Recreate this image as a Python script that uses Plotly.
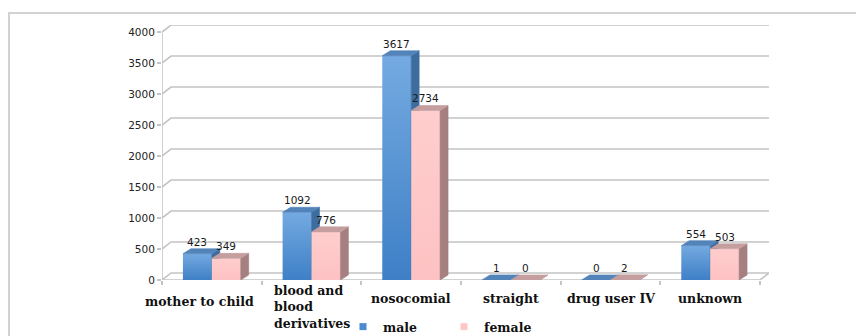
import plotly.graph_objects as go

# ---- data -------------------------------------------------------------
categories = ["mother to child", "blood and blood derivatives", "nosocomial",
              "straight", "drug user IV", "unknown"]
category_text = ["mother to child", "blood and<br>blood<br>derivatives", "nosocomial",
                 "straight", "drug user IV", "unknown"]
male = [423, 1092, 3617, 1, 0, 554]
female = [349, 776, 2734, 0, 2, 503]
y_ticks = [0, 500, 1000, 1500, 2000, 2500, 3000, 3500, 4000]

# ---- geometry / style -------------------------------------------------
Y_MAX = 4000
Y_TOP = 4113          # axis range top (room for the back-wall offset)
X_MIN, X_MAX = -0.5, 5.59
WALL_DX, WALL_DY = 0.09, 113   # back wall offset (x units, value units)
BAR_DX, BAR_DY = 0.08, 81      # bar depth offset
BAR_W = 0.29

BLUE_TOP, BLUE_BOTTOM = "#74aae1", "#3e7fc6"
BLUE_SIDE, BLUE_CAP = "#3d6c9f", "#5283b9"
PINK_FRONT_TOP, PINK_FRONT_BOTTOM = "#ffcdcd", "#fdc2c3"
PINK_SIDE, PINK_CAP = "#a67f80", "#c59e9f"
GRID = "#c4c4c4"
SERIF = "DejaVu Serif"
SANS = "DejaVu Sans"

fig = go.Figure()


def poly(xs, ys, color=None, gradient=None):
    kw = dict(x=xs + [xs[0]], y=ys + [ys[0]], mode="lines", fill="toself",
              line=dict(width=0.6, color=color or "rgba(0,0,0,0)"),
              hoverinfo="skip", showlegend=False, cliponaxis=False)
    if gradient is not None:
        kw["fillgradient"] = gradient
        kw["line"] = dict(width=0)
    else:
        kw["fillcolor"] = color
    fig.add_trace(go.Scatter(**kw))


# ---- back wall, gridlines and floor ----------------------------------
gx, gy = [], []
for v in y_ticks:
    gx += [X_MIN, X_MIN + WALL_DX, X_MAX, None]
    gy += [v, v + WALL_DY, v + WALL_DY, None]
# front-left vertical edge, front floor edge and right floor edge
gx += [X_MIN, X_MIN, None, X_MIN, 5.5, X_MAX, None]
gy += [0, Y_MAX, None, 0, 0, WALL_DY, None]
fig.add_trace(go.Scatter(x=gx, y=gy, mode="lines", line=dict(color=GRID, width=1.6),
                         hoverinfo="skip", showlegend=False, cliponaxis=False))


# ---- 3D-style bars ----------------------------------------------------
def bar(x0, v, front_grad, side, cap):
    x1 = x0 + BAR_W
    # front face
    grad = dict(type="vertical", start=0, stop=max(v, 1),
                colorscale=[[0, front_grad[1]], [1, front_grad[0]]])
    if v > 0:
        poly([x0, x1, x1, x0], [0, 0, v, v], gradient=grad)
    # side face
    poly([x1, x1 + BAR_DX, x1 + BAR_DX, x1], [0, BAR_DY, v + BAR_DY, v], color=side)
    # top face
    poly([x0, x1, x1 + BAR_DX, x0 + BAR_DX], [v, v, v + BAR_DY, v + BAR_DY], color=cap)


for i in range(len(categories)):
    bar(i - BAR_W, male[i], (BLUE_TOP, BLUE_BOTTOM), BLUE_SIDE, BLUE_CAP)
    bar(i, female[i], (PINK_FRONT_TOP, PINK_FRONT_BOTTOM), PINK_SIDE, PINK_CAP)

# ---- value labels ----------------------------------------------------
for i in range(len(categories)):
    for val, xc in ((male[i], i - BAR_W / 2), (female[i], i + BAR_W / 2)):
        fig.add_annotation(x=xc, y=val + BAR_DY, text=str(val), showarrow=False,
                           yanchor="bottom", yshift=-1,
                           font=dict(family=SANS, size=10.5, color="#1a1a1a"))

# ---- category labels -------------------------------------------------
for i, txt in enumerate(category_text):
    multi = "<br>" in txt
    fig.add_annotation(x=i, y=0, text=f"<b>{txt}</b>", showarrow=False,
                       yanchor="middle", align="left" if multi else "center",
                       xshift=-12 if i == 0 else 0,
                       yshift=-27 if multi else (-21 if i == 0 else -18),
                       font=dict(family=SERIF, size=12.5, color="#111111"))

# ---- legend entries --------------------------------------------------
fig.add_trace(go.Scatter(x=[None], y=[None], mode="markers", name="<b>male</b>",
                         marker=dict(symbol="square", size=7, color="#4a8ad0")))
fig.add_trace(go.Scatter(x=[None], y=[None], mode="markers", name="<b>female</b>",
                         marker=dict(symbol="square", size=7, color="#ffc7c8")))

# outer frame
fig.add_shape(type="rect", xref="paper", yref="paper",
              x0=(9 - 162) / 607, x1=(870 - 162) / 607,
              y0=-0.3, y1=(280 - 13) / 255,
              line=dict(color="#d2d2d2", width=2), fillcolor="rgba(0,0,0,0)")

fig.update_layout(
    width=856, height=336,
    margin=dict(l=162, r=87, t=25, b=56),
    paper_bgcolor="white", plot_bgcolor="white",
    showlegend=True,
    legend=dict(orientation="h", xref="container", yref="container",
                x=343 / 856, y=(336 - 327) / 336, xanchor="left", yanchor="middle",
                font=dict(family=SERIF, size=12.5, color="#111111"),
                entrywidth=56, entrywidthmode="pixels",
                bgcolor="rgba(0,0,0,0)", itemwidth=30),
    xaxis=dict(range=[X_MIN, X_MAX], showgrid=False, zeroline=False, showline=False,
               tickvals=[k + 0.5 for k in range(-1, len(categories))],
               showticklabels=False, ticks="outside", ticklen=4, tickcolor=GRID,
               tickwidth=1.5, fixedrange=True),
    yaxis=dict(range=[0, Y_TOP], showgrid=False, zeroline=False, showline=False,
               tickvals=y_ticks, ticktext=[str(v) for v in y_ticks],
               ticks="outside", ticklen=4, tickcolor=GRID, tickwidth=1.5,
               tickfont=dict(family=SANS, size=10.5, color="#222222"), fixedrange=True),
)

fig.write_html("out.html")
